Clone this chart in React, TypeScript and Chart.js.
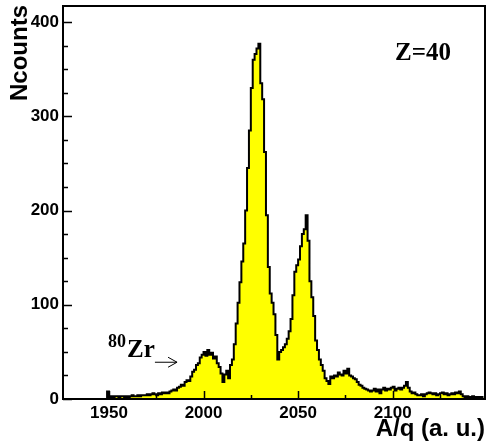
import { useEffect, useRef } from "react";
import { Chart, registerables } from "chart.js";

Chart.register(...registerables);

// Histogram binning (A/q, arbitrary units)
const BIN_START = 1925;
const BIN_WIDTH = 1;

// Counts per bin, starting at BIN_START
const counts: number[] = [
  // 1925-1949
  0, 0, 0, 0, 0, 0, 0, 0, 0, 0, 0, 0, 0, 0, 0, 0, 0, 0, 0, 0, 0, 0, 0, 0, 0,
  // 1950-1959
  8, 2, 3, 2, 3, 3, 2, 3, 3, 2,
  // 1960-1969
  3, 2, 3, 4, 3, 3, 4, 3, 4, 4,
  // 1970-1979
  4, 5, 4, 5, 6, 5, 4, 6, 5, 7,
  // 1980-1989
  6, 7, 6, 8, 9, 10, 9, 12, 13, 15,
  // 1990-1999
  14, 18, 20, 19, 24, 29, 31, 36, 38, 44,
  // 2000-2009
  47, 50, 46, 52, 47, 49, 43, 45, 38, 34,
  // 2010-2019
  27, 18, 26, 30, 22, 36, 42, 58, 80, 102,
  // 2020-2029
  124, 146, 165, 200, 245, 285, 330, 360, 366, 372,
  // 2030-2039
  377, 335, 318, 262, 195, 140, 112, 102, 90, 68,
  // 2040-2049
  42, 50, 52, 55, 58, 64, 72, 85, 110, 135,
  // 2050-2059
  142, 148, 162, 175, 180, 195, 168, 125, 108, 88,
  // 2060-2069
  62, 52, 42, 36, 30, 22, 19, 16, 24, 22,
  // 2070-2079
  25, 24, 28, 26, 25, 30, 27, 32, 25, 24,
  // 2080-2089
  22, 21, 18, 15, 14, 12, 11, 10, 9, 8,
  // 2090-2099
  9, 11, 8, 10, 6, 10, 12, 9, 11, 10,
  // 2100-2109
  12, 13, 9, 11, 12, 10, 12, 14, 18, 12,
  // 2110-2119
  8, 6, 7, 5, 4, 4, 5, 3, 5, 6,
  // 2120-2129
  7, 6, 5, 6, 4, 5, 6, 7, 5, 6,
  // 2130-2139
  4, 5, 6, 5, 7, 6, 8, 5, 3, 2,
  // 2140-2147
  3, 2, 2, 3, 2, 2, 2, 2,
];

const xTickValues = [1950, 2000, 2050, 2100];
const xMinorTicks = [1975, 2025, 2075, 2125];
const yTickValues = [0, 100, 200, 300, 400];
const yMinorStep = 25;

const X_MIN = 1925.7;
const X_MAX = 2148.8;
const Y_MAX = 417;

const SANS = "'Liberation Sans', Arial, Helvetica, sans-serif";
const SERIF = "'Liberation Serif', 'Times New Roman', serif";

// Frame, inward tick marks and text labels drawn on top of the histogram
const frameAndLabels = {
  id: "frameAndLabels",
  afterDatasetsDraw(chart: any) {
    const { ctx, chartArea } = chart;
    const xs = chart.scales.x;
    const ys = chart.scales.y;
    const { left, right, top, bottom } = chartArea;
    ctx.save();
    ctx.strokeStyle = "#000";
    ctx.lineWidth = 2;
    ctx.strokeRect(left, top, right - left, bottom - top);

    ctx.lineWidth = 1.5;
    ctx.beginPath();
    for (let v = 0; v <= Y_MAX; v += yMinorStep) {
      const y = Math.round(ys.getPixelForValue(v)) + 0.5;
      const len = v % 100 === 0 ? 9 : 5;
      ctx.moveTo(left, y);
      ctx.lineTo(left + len, y);
    }
    for (const v of xTickValues) {
      const x = Math.round(xs.getPixelForValue(v)) + 0.5;
      ctx.moveTo(x, bottom);
      ctx.lineTo(x, bottom - 8);
    }
    for (const v of xMinorTicks) {
      const x = Math.round(xs.getPixelForValue(v)) + 0.5;
      ctx.moveTo(x, bottom);
      ctx.lineTo(x, bottom - 4);
    }
    ctx.stroke();

    ctx.fillStyle = "#000";

    // Vertical axis title, right-aligned to the top of the frame
    ctx.save();
    ctx.translate(27, top - 1);
    ctx.rotate(-Math.PI / 2);
    ctx.font = `bold 24px ${SANS}`;
    ctx.textAlign = "right";
    ctx.textBaseline = "alphabetic";
    ctx.fillText("Ncounts", 0, 0);
    ctx.restore();

    ctx.textBaseline = "alphabetic";
    ctx.textAlign = "left";

    // Charge-state label
    ctx.font = `bold 25px ${SERIF}`;
    ctx.fillText("Z=40", xs.getPixelForValue(2101.2), ys.getPixelForValue(359.7));

    // 80Zr marker with superscript mass number
    ctx.font = `bold 18px ${SERIF}`;
    ctx.fillText("80", xs.getPixelForValue(1949.5), ys.getPixelForValue(55));
    ctx.font = `bold 25px ${SERIF}`;
    ctx.fillText("Zr", xs.getPixelForValue(1959.6), ys.getPixelForValue(44.6));

    // Arrow pointing at the 80Zr bump
    const ax0 = xs.getPixelForValue(1974.3);
    const ax1 = xs.getPixelForValue(1986.0);
    const ay = ys.getPixelForValue(39);
    ctx.lineWidth = 1;
    ctx.beginPath();
    ctx.moveTo(ax0, ay);
    ctx.lineTo(ax1, ay);
    ctx.moveTo(ax1 - 9, ay - 5);
    ctx.lineTo(ax1, ay);
    ctx.lineTo(ax1 - 9, ay + 5);
    ctx.stroke();
    ctx.restore();
  },
};

export default function App() {
  const canvasRef = useRef<HTMLCanvasElement | null>(null);

  useEffect(() => {
    const canvas = canvasRef.current;
    if (!canvas) return;

    const points = counts.map((c, i) => ({ x: BIN_START + i * BIN_WIDTH, y: c }));
    points.push({
      x: BIN_START + counts.length * BIN_WIDTH,
      y: counts[counts.length - 1],
    });

    const chart = new Chart(canvas, {
      type: "line",
      data: {
        datasets: [
          {
            data: points,
            stepped: "after",
            fill: "origin",
            backgroundColor: "#ffff00",
            borderColor: "#000",
            borderWidth: 2,
            pointRadius: 0,
          },
        ],
      },
      options: {
        responsive: false,
        animation: false,
        layout: { padding: { top: 6, right: 1, left: 0, bottom: 0 } },
        plugins: {
          legend: { display: false },
          tooltip: { enabled: false },
        },
        scales: {
          x: {
            type: "linear",
            min: X_MIN,
            max: X_MAX,
            border: { display: false },
            grid: { display: false, drawTicks: false },
            afterBuildTicks: (s: any) => {
              s.ticks = xTickValues.map((v) => ({ value: v }));
            },
            afterFit: (s: any) => {
              s.height = 47;
              s.paddingLeft = 0;
              s.paddingRight = 0;
            },
            ticks: {
              autoSkip: false,
              maxRotation: 0,
              padding: 4,
              color: "#000",
              font: { family: SANS, size: 17, weight: "bold" },
              callback: (v: any) => String(v),
            },
            title: {
              display: true,
              text: "A/q (a. u.)",
              align: "end",
              color: "#000",
              font: { family: SANS, size: 24, weight: "bold" },
              padding: { top: 0, bottom: 2 },
            },
          },
          y: {
            type: "linear",
            min: 0,
            max: Y_MAX,
            border: { display: false },
            grid: { display: false, drawTicks: false },
            afterBuildTicks: (s: any) => {
              s.ticks = yTickValues.map((v) => ({ value: v }));
            },
            afterFit: (s: any) => {
              s.width = 63;
              s.paddingTop = 0;
              s.paddingBottom = 0;
            },
            ticks: {
              autoSkip: false,
              padding: 4,
              color: "#000",
              font: { family: SANS, size: 17, weight: "bold" },
              callback: (v: any) => String(v),
            },
            title: { display: false },
          },
        },
      },
      plugins: [frameAndLabels],
    });

    return () => chart.destroy();
  }, []);

  return (
    <div style={{ position: "fixed", left: 0, top: 0, width: 486, height: 446, background: "#fff" }}>
      <canvas ref={canvasRef} width={486} height={446} style={{ display: "block" }} />
    </div>
  );
}
